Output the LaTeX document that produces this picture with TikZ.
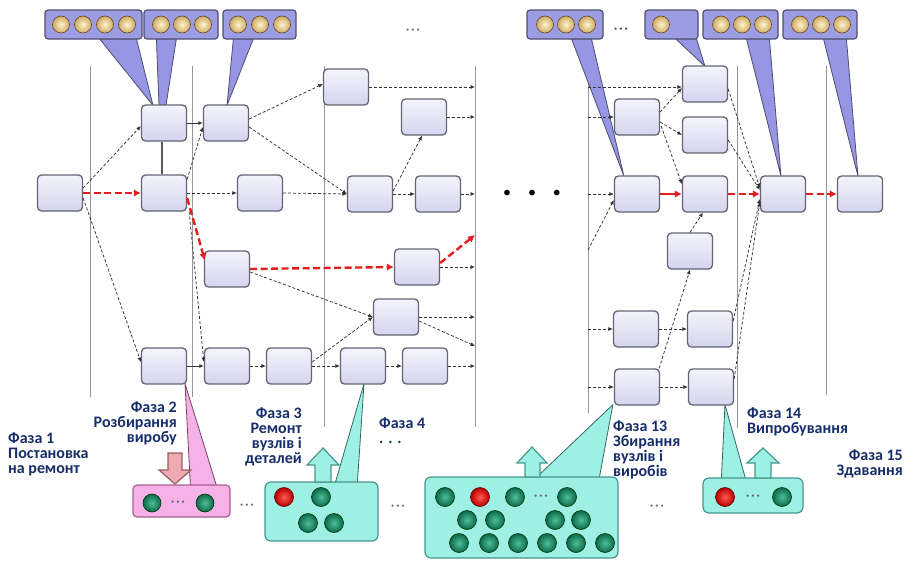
\documentclass[tikz,border=0pt]{standalone}
\usepackage{fontspec}
\setmainfont{Carlito}
\usetikzlibrary{arrows.meta,calc,backgrounds}
\definecolor{boxtop}{RGB}{244,244,252}
\definecolor{boxbot}{RGB}{212,212,238}
\definecolor{boxline}{RGB}{100,100,118}
\definecolor{barfill}{RGB}{156,156,226}
\definecolor{barline}{RGB}{78,78,112}
\definecolor{wedgefill}{RGB}{150,150,228}
\definecolor{critred}{RGB}{226,30,30}
\definecolor{sepgray}{RGB}{150,150,150}
\definecolor{cyanfill}{RGB}{158,240,228}
\definecolor{cyanline}{RGB}{70,150,140}
\definecolor{pinkfill}{RGB}{246,178,232}
\definecolor{pinkline}{RGB}{165,95,145}
\definecolor{pinkarrow}{RGB}{240,170,178}
\definecolor{pinkarrowline}{RGB}{150,95,100}
\definecolor{navy}{RGB}{22,45,105}
\definecolor{greenin}{RGB}{80,190,150}
\definecolor{greenout}{RGB}{10,105,75}
\definecolor{redin}{RGB}{255,90,80}
\definecolor{redout}{RGB}{185,0,0}
\definecolor{goldin}{RGB}{255,245,205}
\definecolor{goldout}{RGB}{205,170,100}
\tikzset{
 task/.style={draw=boxline, line width=1.3pt, rounded corners=4pt, top color=boxtop, bottom color=boxbot, minimum width=45pt, minimum height=36pt, inner sep=0pt},
 dep/.style={densely dashed, line width=0.75pt, draw=black!80, -{Latex[length=4.5pt,width=4pt]}},
 link/.style={line width=0.9pt, draw=black!80, -{Latex[length=4.5pt,width=4pt]}},
 crit/.style={draw=critred, line width=2.4pt, dash pattern=on 7pt off 3.5pt, -{Latex[length=7pt,width=7.5pt]}},
 critsolid/.style={draw=critred, line width=2.4pt, -{Latex[length=7pt,width=7.5pt]}},
 sepline/.style={draw=sepgray, line width=0.8pt},
 bar/.style={draw=barline, line width=1.2pt, rounded corners=3pt, fill=barfill, minimum height=29pt, inner sep=0pt},
 gold/.style={circle, minimum size=17pt, inner sep=0pt, inner color=goldin, outer color=goldout, draw=brown!55!black, line width=0.6pt},
 wedge/.style={fill=wedgefill, draw=barline, line width=0.8pt, line join=round},
 gball/.style={circle, minimum size=19pt, inner sep=0pt, inner color=greenin, outer color=greenout, draw=green!20!black, line width=0.6pt},
 rball/.style={circle, minimum size=19pt, inner sep=0pt, inner color=redin, outer color=redout, draw=red!35!black, line width=0.6pt},
 cpanel/.style={draw=cyanline, line width=1.2pt, rounded corners=6pt, fill=cyanfill, inner sep=0pt},
 ppanel/.style={draw=pinkline, line width=1.2pt, rounded corners=4pt, fill=pinkfill, inner sep=0pt},
 cwedge/.style={fill=cyanfill, draw=cyanline!70!black, line width=0.8pt, line join=round},
 pwedge/.style={fill=pinkfill, draw=pinkline!70!black, line width=0.8pt, line join=round},
 carrow/.style={fill=cyanfill, draw=cyanline, line width=1.2pt, line join=miter},
 parrow/.style={fill=pinkarrow, draw=pinkarrowline, line width=1.2pt, line join=miter},
 phase/.style={font=\fontsize{16}{15.2}\selectfont\bfseries, text=navy, inner sep=0pt},
 dots/.style={font=\fontsize{12}{12}\selectfont\bfseries, text=black!55, inner sep=0pt},
}
\begin{document}
\begin{tikzpicture}[x=1pt,y=-1pt]
\useasboundingbox (0,0) rectangle (913,562);
% ---------- top bars ----------
\node[bar, minimum width=97pt] (bar1) at (93.5,24.5) {};
\foreach \x in {61,83,105,127} \node[gold] at (\x,24.5) {};
\node[bar, minimum width=74pt] (bar2) at (181,24.5) {};
\foreach \x in {161,182,203} \node[gold] at (\x,24.5) {};
\node[bar, minimum width=73pt] (bar3) at (259.5,24.5) {};
\foreach \x in {238,260,282} \node[gold] at (\x,24.5) {};
\node[bar, minimum width=76pt] (bar4) at (565,24.5) {};
\foreach \x in {545,566,587} \node[gold] at (\x,24.5) {};
\node[bar, minimum width=53pt] (bar5) at (671.5,24.5) {};
\node[gold] at (661,24.5) {};
\node[bar, minimum width=75pt] (bar6) at (740.5,24.5) {};
\foreach \x in {721,742,763} \node[gold] at (\x,24.5) {};
\node[bar, minimum width=74pt] (bar7) at (820,24.5) {};
\foreach \x in {800,821,842} \node[gold] at (\x,24.5) {};
\node[dots] (topdots1) at (413,31) {·\,·\,·};
\node[dots, text=black!70] (topdots2) at (621,30) {·\,·\,·};
% ---------- task boxes ----------
\node[task] (A) at (60,193) {};
\node[task] (B1) at (164,123) {};
\node[task] (B2) at (164,193) {};
\node[task] (B3) at (164,366) {};
\node[task] (C1) at (226,123) {};
\node[task] (C2) at (260,193) {};
\node[task] (C3) at (227,269) {};
\node[task] (C4) at (227,366) {};
\node[task] (C5) at (289,366) {};
\node[task] (D1) at (346,87) {};
\node[task] (D2) at (424,117) {};
\node[task] (D3) at (370,194) {};
\node[task] (D4) at (438,194) {};
\node[task] (D5) at (417,267) {};
\node[task] (D6) at (396,317) {};
\node[task] (D7) at (363,366) {};
\node[task] (D8) at (425,366) {};
\node[task] (E0) at (637,117) {};
\node[task] (E1) at (637,194) {};
\node[task] (G1) at (636,329) {};
\node[task] (H1) at (637,387) {};
\node[task] (F1) at (705,84) {};
\node[task] (F2) at (705,135) {};
\node[task] (F3) at (705,194) {};
\node[task] (M) at (690,251) {};
\node[task] (G2) at (710,329) {};
\node[task] (H2) at (711,387) {};
\node[task] (X) at (783,194) {};
\node[task] (Z) at (860,194) {};
\node[font=\fontsize{16}{16}\selectfont, inner sep=0pt] (middots) at (532,194) {•\hspace{17pt}•\hspace{17pt}•};
% ---------- free ends on phase borders ----------
\coordinate (s1) at (475,87);
\coordinate (s2) at (475,117);
\coordinate (s3) at (475,194);
\coordinate (s4) at (475,235);
\coordinate (s5) at (475,267);
\coordinate (s6) at (475,317);
\coordinate (s7) at (475,346);
\coordinate (s8) at (475,366);
\coordinate (r1) at (588,87);
\coordinate (r2) at (588,117);
\coordinate (r3) at (588,194);
\coordinate (r4) at (588,250);
\coordinate (r5) at (588,329);
\coordinate (r6) at (588,387);
% ---------- bottom panels ----------
\node[ppanel, minimum width=97pt, minimum height=32pt] (pp) at (181.5,501) {};
\node[gball, minimum size=18pt] at (152,503) {};
\node[gball, minimum size=18pt] at (205,503) {};
\node[dots, text=black!60] at (178,503) {·\,·\,·};
\node[cpanel, minimum width=113pt, minimum height=59pt] (cp1) at (321.5,511.5) {};
\node[rball] at (284,497) {};
\node[gball] at (321,497) {};
\node[gball] at (308,523) {};
\node[gball] at (334,523) {};
\node[cpanel, minimum width=193pt, minimum height=81pt] (cp2) at (521.5,517.5) {};
\node[gball] at (445,497) {};
\node[rball] at (480,497) {};
\node[gball] at (515,497) {};
\node[dots, text=black!60] at (541,497) {·\,·\,·};
\node[gball] at (567,497) {};
\foreach \x in {467,495,555,581} \node[gball] at (\x,520) {};
\foreach \x in {459,489,518,547,576,605} \node[gball] at (\x,543) {};
\node[cpanel, minimum width=100pt, minimum height=35pt] (cp3) at (753,495.5) {};
\node[rball] at (725,497) {};
\node[dots, text=black!60] at (753,497) {·\,·\,·};
\node[gball] at (782,497) {};
\node[dots] at (247,506) {·\,·\,·};
\node[dots] at (398,507) {·\,·\,·};
\node[dots] at (657,507) {·\,·\,·};
% block arrows
\draw[parrow] (175,484) -- (191,470) -- (182,470) -- (182,453) -- (168,453) -- (168,470) -- (159,470) -- cycle;
\draw[carrow] (323,448) -- (339,465) -- (331,465) -- (331,482) -- (315,482) -- (315,465) -- (307,465) -- cycle;
\draw[carrow] (532,447) -- (547,463) -- (540,463) -- (540,477) -- (525,477) -- (525,463) -- (517,463) -- cycle;
\draw[carrow] (763,448) -- (779,463) -- (771,463) -- (771,478) -- (755,478) -- (755,463) -- (747,463) -- cycle;
% ---------- texts ----------
\node[phase, anchor=north west, align=left] (p1) at (8,432) {Фаза 1\\Постановка\\на ремонт};
\node[phase, anchor=north east, align=right] (p2) at (177,401) {Фаза 2\\Розбирання\\виробу};
\node[phase, anchor=north east, align=right] (p3) at (302,407) {Фаза 3\\Ремонт\\вузлів і\\деталей};
\node[phase, anchor=north west, align=left] (p4) at (379,417) {Фаза 4\\. . .};
\node[phase, anchor=north west, align=left] (p13) at (613,420) {Фаза 13\\Збирання\\вузлів і\\виробів};
\node[phase, anchor=north west, align=left] (p14) at (747,407) {Фаза 14\\Випробування};
\node[phase, anchor=north east, align=right] (p15) at (903,449) {Фаза 15\\Здавання};
% ---------- background: separators and callout wedges ----------
\begin{scope}[on background layer]
\foreach \x/\b in {90/397,192/397,324/427,475/427,588/413,737/428,826/395}
  \draw[sepline] (\x,66) -- (\x,\b);
\draw[wedge] ($(bar1.south west)+(55,-1)$) -- ($(B1.north)+(-11,1)$) -- ($(bar1.south west)+(92,-1)$) -- cycle;
\draw[wedge] ($(bar2.south west)+(13,-1)$) -- ($(B1.north)+(-5,1)$) -- ($(B1.north)+(2,1)$) -- ($(bar2.south west)+(33,-1)$) -- cycle;
\draw[wedge] ($(bar3.south west)+(11,-1)$) -- ($(C1.north)+(1,1)$) -- ($(bar3.south west)+(31,-1)$) -- cycle;
\draw[wedge] ($(bar4.south west)+(45,-1)$) -- ($(E1.north)+(-13,1)$) -- ($(bar4.south west)+(65,-1)$) -- cycle;
\draw[wedge] ($(bar5.south west)+(31,-1)$) -- ($(F1.north)+(0,1)$) -- ($(bar5.south west)+(52,-1)$) -- cycle;
\draw[wedge] ($(bar6.south west)+(44,-1)$) -- ($(X.north)+(-2,1)$) -- ($(bar6.south west)+(67,-1)$) -- cycle;
\draw[wedge] ($(bar7.south west)+(41,-1)$) -- ($(Z.north)+(-2,1)$) -- ($(bar7.south west)+(64,-1)$) -- cycle;
\draw[pwedge] ($(B3.south)+(21,-1)$) -- ($(pp.north west)+(58,1)$) -- ($(pp.north west)+(84,1)$) -- cycle;
\draw[cwedge] ($(D7.south)+(1,-1)$) -- ($(cp1.north west)+(71,1)$) -- ($(cp1.north west)+(93,1)$) -- cycle;
\draw[cwedge] ($(H1.south west)+(-1,-1)$) -- ($(cp2.north west)+(112,1)$) -- ($(cp2.north west)+(175,1)$) -- cycle;
\draw[cwedge] ($(H2.south)+(14,-1)$) -- ($(cp3.north west)+(19,1)$) -- ($(cp3.north west)+(43,1)$) -- cycle;
\end{scope}
% ---------- connectors ----------
\draw[line width=1.6pt, black!65] ($(B1.south)+(-2,0)$) -- ($(B2.north)+(-2,0)$);
\draw[dep] ($(A.east)+(0,-5)$) -- ($(B1.west)+(0,3)$);
\draw[crit] (A.east) -- (B2.west);
\draw[dep] ($(A.east)+(0,5)$) -- ($(B3.west)+(0,-4)$);
\draw[link] (B1.east) -- (C1.west);
\draw[dep] ($(B2.north east)+(0,5)$) -- ($(C1.west)+(0,4)$);
\draw[dep] (B2.east) -- (C2.west);
\draw[crit] ($(B2.east)+(0,5)$) -- ($(C3.north west)+(1,10)$);
\draw[dep] ($(B2.south east)+(2,0)$) -- ($(C4.west)+(0,-4)$);
\draw[link] (B3.east) -- (C4.west);
\draw[dep] ($(C1.east)+(0,-4)$) -- ($(D1.west)+(0,-3)$);
\draw[dep] ($(C1.east)+(0,4)$) -- (D3.west);
\draw[dep] (C2.east) -- (D3.west);
\draw[dep] (D1.east) -- (s1);
\draw[dep] (D2.east) -- (s2);
\draw[dep] ($(D3.east)+(0,-3)$) -- ($(D2.south)+(-2,0)$);
\draw[dep] (D3.east) -- (D4.west);
\draw[dep] (D4.east) -- (s3);
\draw[crit] (C3.east) -- (D5.west);
\draw[dep] ($(C3.east)+(0,3)$) -- (D6.west);
\draw[crit] ($(D5.east)+(0,-4)$) -- (s4);
\draw[dep] (D5.east) -- (s5);
\draw[dep] (D6.east) -- (s6);
\draw[dep] ($(D6.east)+(0,4)$) -- (s7);
\draw[dep] (C4.east) -- (C5.west);
\draw[dep] (C5.east) -- (D7.west);
\draw[dep] ($(C5.east)+(0,-4)$) -- (D6.west);
\draw[dep] (D7.east) -- (D8.west);
\draw[dep] (D8.east) -- (s8);
\draw[dep] (r1) -- ($(F1.west)+(0,3)$);
\draw[dep] (r2) -- (E0.west);
\draw[dep] (r3) -- (E1.west);
\draw[dep] (r4) -- ($(E1.west)+(0,6)$);
\draw[dep] (r5) -- (G1.west);
\draw[dep] (r6) -- (H1.west);
\draw[dep] ($(E0.east)+(0,-5)$) -- ($(F1.west)+(0,4)$);
\draw[dep] ($(E0.east)+(0,5)$) -- (F2.west);
\draw[dep] ($(E0.east)+(1,9)$) -- ($(F3.west)+(0,-10)$);
\draw[critsolid] (E1.east) -- (F3.west);
\draw[crit] (F3.east) -- (X.west);
\draw[crit] (X.east) -- (Z.west);
\draw[dep] ($(F1.east)+(0,5)$) -- ($(X.west)+(0,-6)$);
\draw[dep] ($(F2.east)+(0,5)$) -- ($(X.west)+(0,-4)$);
\draw[dep] (M.north) -- ($(F3.south)+(-2,0)$);
\draw[dep] ($(H1.north east)+(-1,0)$) -- (M.south);
\draw[dep] (G1.east) -- (G2.west);
\draw[dep] (H1.east) -- (H2.west);
\draw[dep] ($(G2.east)+(0,-8)$) -- ($(X.west)+(0,5)$);
\draw[dep] ($(H2.east)+(0,-8)$) -- ($(X.west)+(0,8)$);
\end{tikzpicture}
\end{document}
